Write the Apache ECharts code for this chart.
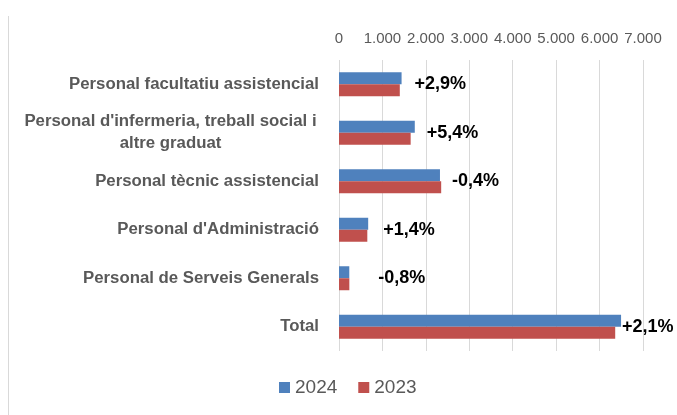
<!DOCTYPE html>
<html>
<head>
<meta charset="utf-8">
<script src="https://cdn.jsdelivr.net/npm/echarts@6/dist/echarts.min.js"></script>
<style>
  html, body { margin: 0; padding: 0; background: #fff; }
  #chart { width: 677px; height: 415px; }
</style>
</head>
<body>
<div id="chart"></div>
<script>
// categories (de dalt a baix)
var categories = [
  'Personal facultatiu assistencial',
  "Personal d'infermeria, treball social i\naltre graduat",
  'Personal tècnic assistencial',
  "Personal d'Administració",
  'Personal de Serveis Generals',
  'Total'
];
var values2024 = [1441, 1745, 2325, 672, 237, 6495];
var values2023 = [1400, 1650, 2353, 652, 238, 6360];
var variacio = ['+2,9%', '+5,4%', '-0,4%', '+1,4%', '-0,8%', '+2,1%'];
var xTicks = [0, 1000, 2000, 3000, 4000, 5000, 6000, 7000];

// posicio manual de les etiquetes de variacio
var labelOffsets = [[13, 6], [12, 6], [12, 6], [15, 6], [29, 6], [1, 6]];

var chart = echarts.init(document.getElementById('chart'));

var data2024 = values2024.map(function (v, i) {
  return {
    value: v,
    label: { show: true, formatter: variacio[i], offset: labelOffsets[i] }
  };
});

var option = {
  animation: false,
  textStyle: { fontFamily: 'Liberation Sans' },
  grid: { left: 339, right: 34, top: 60, bottom: 64 },
  legend: {
    data: ['2024', '2023'],
    left: 279,
    top: 378,
    padding: 0,
    icon: 'rect',
    itemWidth: 11,
    itemHeight: 11,
    itemGap: 21,
    textStyle: { fontSize: 19, color: '#595959' }
  },
  xAxis: {
    type: 'value',
    position: 'top',
    min: xTicks[0],
    max: xTicks[xTicks.length - 1],
    interval: 1000,
    axisLine: { show: false },
    axisTick: { show: false },
    splitLine: { lineStyle: { color: '#d9d9d9', width: 1 } },
    axisLabel: {
      color: '#595959',
      fontSize: 15,
      margin: 14,
      formatter: function (v) {
        return v === 0 ? '0' : (v / 1000).toFixed(0) + '.000';
      }
    }
  },
  yAxis: {
    type: 'category',
    inverse: true,
    data: categories,
    axisLine: { show: false },
    axisTick: { show: false },
    axisLabel: {
      color: '#595959',
      fontSize: 16.8,
      fontWeight: 'bold',
      margin: 20,
      lineHeight: 22,
      formatter: function (v) {
        if (v.indexOf('\n') < 0) return v;
        return v.split('\n').map(function (s) { return '{w|' + s + '}'; }).join('\n');
      },
      rich: {
        w: { width: 297, align: 'center', fontSize: 16.8, fontWeight: 'bold', color: '#595959', lineHeight: 22 }
      }
    }
  },
  series: [
    {
      name: '2024',
      type: 'bar',
      data: data2024,
      barWidth: 12,
      barGap: '0%',
      itemStyle: { color: '#4f81bd' },
      label: {
        position: 'right',
        distance: 0,
        color: '#000',
        fontSize: 18,
        fontWeight: 'bold'
      }
    },
    {
      name: '2023',
      type: 'bar',
      data: values2023,
      barWidth: 12,
      barGap: '0%',
      itemStyle: { color: '#c0504d' }
    }
  ],
  graphic: [
    {
      type: 'line',
      shape: { x1: 8.5, y1: 16, x2: 8.5, y2: 415 },
      style: { stroke: '#d9d9d9', lineWidth: 1 }
    }
  ]
};

chart.setOption(option);
</script>
</body>
</html>
